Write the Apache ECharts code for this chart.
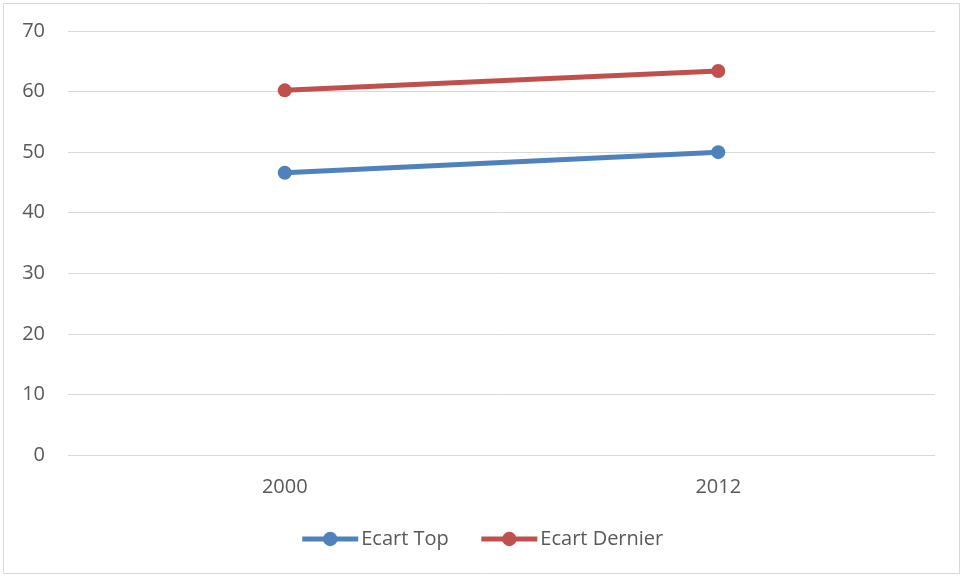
<!DOCTYPE html>
<html>
<head>
<meta charset="utf-8">
<script src="https://cdn.jsdelivr.net/npm/echarts@6/dist/echarts.min.js"></script>
<style>
  html, body { margin: 0; padding: 0; background: #fff; }
  #chart { width: 963px; height: 578px; }
</style>
</head>
<body>
<div id="chart"></div>
<script>
// categories and series values
var years = ['2000', '2012'];
var ecartTop = [46.6, 50.0];
var ecartDernier = [60.2, 63.4];

var chart = echarts.init(document.getElementById('chart'));
var option = {
  animation: false,
  textStyle: { fontFamily: 'Open Sans, Calibri, sans-serif' },
  graphic: [{
    type: 'rect',
    shape: { x: 3.5, y: 3.5, width: 956, height: 570 },
    style: { fill: 'none', stroke: '#d9d9d9', lineWidth: 1 },
    silent: true
  }],
  grid: { left: 68, right: 28, top: 31, bottom: 123 },
  legend: {
    bottom: 24,
    left: 'center',
    itemWidth: 56,
    itemHeight: 18,
    itemGap: 30,
    textStyle: { fontSize: 20, color: '#595959', padding: [0, 0, 0, -2] },
    lineStyle: { width: 5 },
    data: ['Ecart Top', 'Ecart Dernier']
  },
  xAxis: {
    type: 'category',
    data: years,
    boundaryGap: true,
    axisLine: { show: false },
    axisTick: { show: false },
    axisLabel: { fontSize: 20, color: '#595959', margin: 22 }
  },
  yAxis: {
    type: 'value',
    min: 0,
    max: 70,
    interval: 10,
    axisLine: { show: false },
    axisTick: { show: false },
    axisLabel: { fontSize: 20, color: '#595959', margin: 23 },
    splitLine: { lineStyle: { color: '#d9d9d9', width: 1 } }
  },
  series: [
    {
      name: 'Ecart Top',
      type: 'line',
      data: ecartTop,
      symbol: 'circle',
      symbolSize: 14,
      itemStyle: { color: '#4F81BD' },
      lineStyle: { width: 5, color: '#4F81BD' }
    },
    {
      name: 'Ecart Dernier',
      type: 'line',
      data: ecartDernier,
      symbol: 'circle',
      symbolSize: 14,
      itemStyle: { color: '#C0504D' },
      lineStyle: { width: 5, color: '#C0504D' }
    }
  ]
};
chart.setOption(option);
</script>
</body>
</html>
